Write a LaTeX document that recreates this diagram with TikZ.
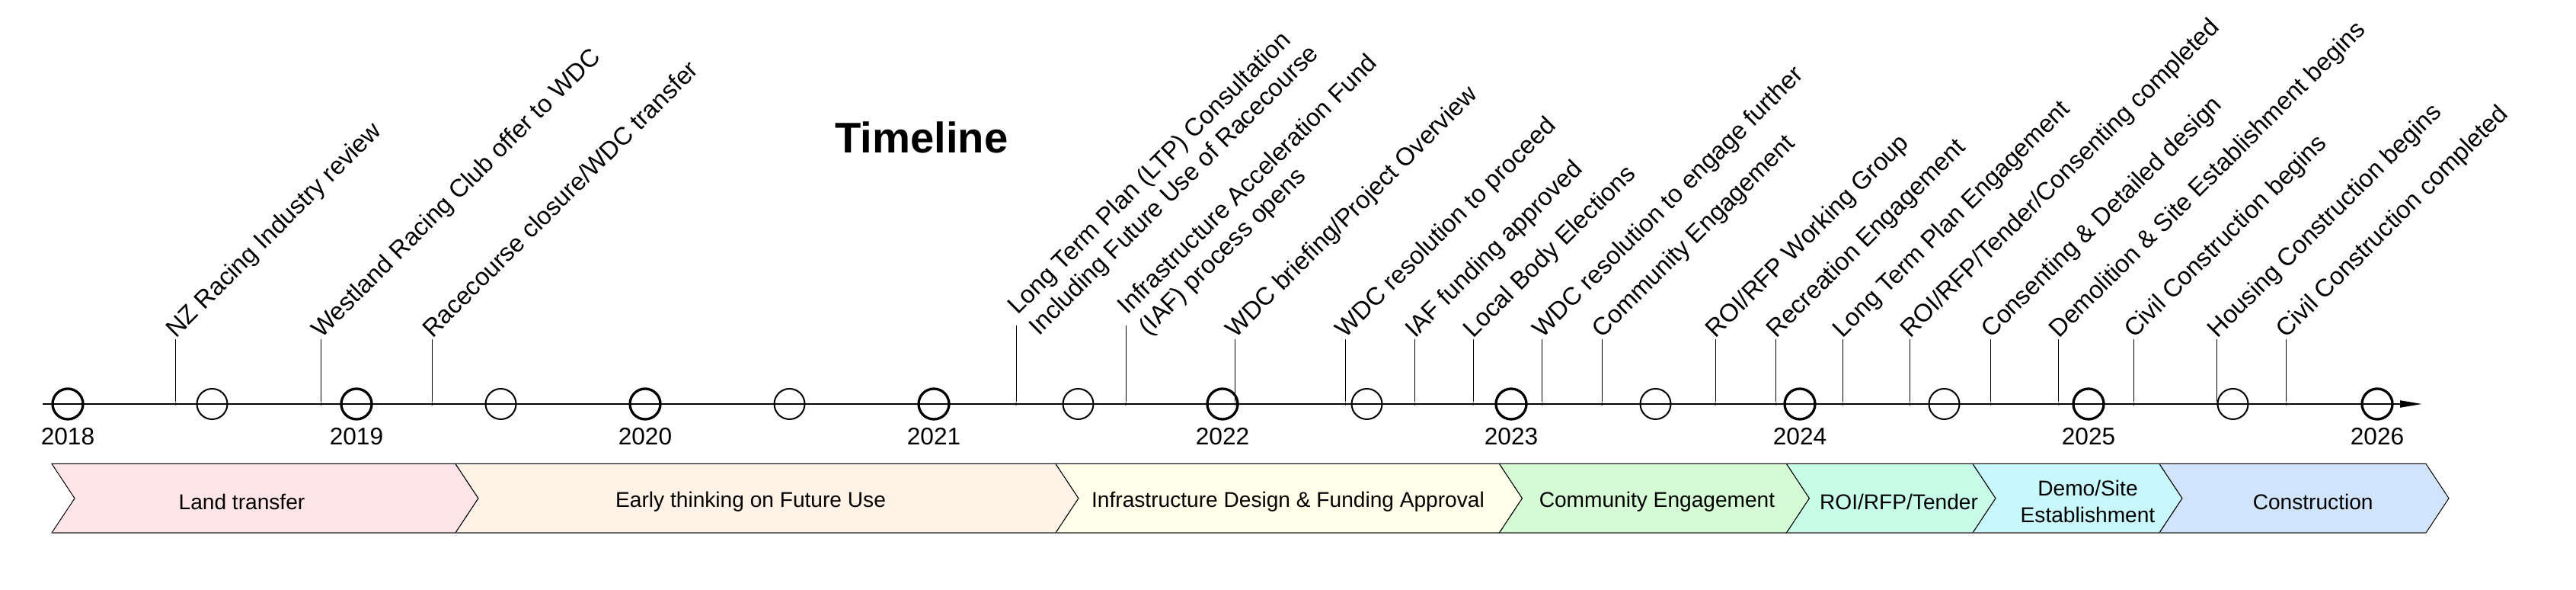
\documentclass[tikz,border=0pt]{standalone}
\usepackage{fontspec}
\setmainfont{Liberation Sans}
\usetikzlibrary{arrows.meta}

\definecolor{landpink}{RGB}{255,228,232}
\definecolor{earlypeach}{RGB}{255,242,230}
\definecolor{infrayellow}{RGB}{255,255,234}
\definecolor{commgreen}{RGB}{213,252,213}
\definecolor{roimint}{RGB}{198,252,232}
\definecolor{democyan}{RGB}{200,247,252}
\definecolor{constblue}{RGB}{208,228,252}
\definecolor{shadowgray}{RGB}{105,105,105}

\begin{document}
\begin{tikzpicture}

\tikzset{year/.style = {shape=circle,draw,line width=0.033cm,minimum size=0.4cm,inner sep=0}}
\tikzset{half/.style = {shape=circle,draw,line width=0.02cm,minimum size=0.4cm,inner sep=0}}
\tikzset{dot/.style = {shape=circle,fill,inner sep=0,minimum size=0.036cm}}
\tikzset{stem/.style = {line width=0.01cm}}
\tikzset{yearlabel/.style = {inner sep=0,font=\fontsize{9}{11}\selectfont}}
\tikzset{event/.style = {rotate=45,inner sep=0,font=\fontsize{9.3}{10.9}\selectfont}}
\tikzset{phase/.style = {draw=black,line width=0.01cm}}
\tikzset{phasetext/.style = {inner sep=0,align=center,font=\fontsize{8}{9.7}\selectfont}}

\useasboundingbox (0,0) rectangle (33.82,7.74);

% title
\node[font=\fontsize{16}{19}\selectfont\bfseries] (title) at (12.10,5.935) {Timeline};

% axis
\coordinate (start) at (0.56,2.44);
\coordinate (end) at (31.80,2.44);
\draw[line width=0.022cm,-{Triangle[length=0.29cm,width=0.09cm]}] (start) -- (end);

% half-year ticks and years
\foreach \k in {0,...,16} {
  \pgfmathsetmacro\x{0.89+1.895*\k}
  \ifodd\k
    \node[half] (t\k) at (\x,2.44) {};
  \else
    \node[year] (t\k) at (\x,2.44) {};
    \node[yearlabel] (y\k) at (\x,2.01) {\the\numexpr2018+\k/2\relax};
  \fi
}

% events
\foreach \x/\t [count=\i] in {2.308/NZ Racing Industry review,
    4.216/Westland Racing Club offer to WDC,
    5.675/{Racecourse closure/WDC transfer},
    16.219/{WDC briefing/Project Overview},
    17.664/WDC resolution to proceed,
    18.576/IAF funding approved,
    19.341/Local Body Elections,
    20.246/WDC resolution to engage further,
    21.032/Community Engagement,
    22.520/{ROI/RFP Working Group},
    23.319/Recreation Engagement,
    24.194/Long Term Plan Engagement,
    25.075/{ROI/RFP/Tender/Consenting completed},
    26.138/Consenting \& Detailed design,
    27.028/Demolition \& Site Establishment begins,
    28.015/Civil Construction begins,
    29.108/Housing Construction begins,
    30.013/Civil Construction completed} {
  \node[dot] (e\i) at (\x,2.44) {};
  \coordinate (s\i) at (\x,3.29);
  \draw[stem] (e\i) -- (s\i);
  \node[event,anchor=base west] (l\i) at (s\i) {\t};
}

% two-line events
\node[dot] (ltp) at (13.34,2.44) {};
\coordinate (ltptop) at (13.34,3.47);
\draw[stem] (ltp) -- (ltptop);
\node[event,anchor=west,align=left] (ltplabel) at (13.44,3.52)
  {Long Term Plan (LTP) Consultation\\Including Future Use of Racecourse};

\node[dot] (iaf) at (14.78,2.44) {};
\coordinate (iaftop) at (14.78,3.47);
\draw[stem] (iaf) -- (iaftop);
\node[event,anchor=west,align=left] (iaflabel) at (14.88,3.52)
  {Infrastructure Acceleration Fund\\(IAF) process opens};

% phases
\foreach \a/\b/\c/\m/\t [count=\i] in {0.68/5.98/landpink/3.175/Land transfer,
    5.98/13.86/earlypeach/9.856/Early thinking on Future Use,
    13.86/19.685/infrayellow/16.91/Infrastructure Design \& Funding Approval,
    19.685/23.455/commgreen/21.755/Community Engagement,
    23.455/25.90/roimint/24.93/{ROI/RFP/Tender},
    25.90/28.35/democyan/27.41/{Demo/Site\\Establishment},
    28.35/31.85/constblue/30.367/Construction} {
  \draw[phase,fill=\c] (\a,1.655) -- (\b,1.655) -- ({\b+0.3},1.2025) -- (\b,0.75)
    -- (\a,0.75) -- ({\a+0.3},1.2025) -- cycle;
  \draw[shadowgray,line width=0.016cm] (\a,0.75) -- (\b,0.75);
  \node[phasetext] (p\i) at (\m,1.16) {\t};
}

\end{tikzpicture}
\end{document}
